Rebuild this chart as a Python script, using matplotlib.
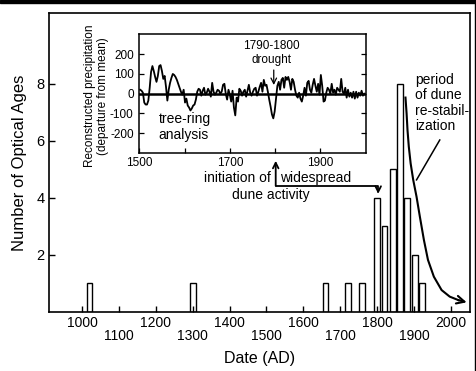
import numpy as np
import matplotlib
matplotlib.use("Agg")
from matplotlib import pyplot as plt
from matplotlib.patches import Rectangle

plt.rcParams['font.family'] = ['Liberation Sans', 'DejaVu Sans']
plt.rcParams['axes.unicode_minus'] = False

# optical ages (main histogram)
age_dates = [1020, 1300, 1660, 1720, 1760, 1800, 1820, 1842, 1862, 1882, 1902, 1922]
age_counts = [1, 1, 1, 1, 1, 4, 3, 5, 8, 4, 2, 1]

even_ticks = [1000, 1200, 1400, 1600, 1800, 2000]
odd_ticks = [1100, 1300, 1500, 1700, 1900]

# tree-ring reconstructed precipitation (inset), every 3 years from 1502
precip_years = np.arange(1502, 2000, 3)
precip_values = [
    20, 15, 5, -45, -55, -55, -35, 30, 110, 140,
    115, 85, 60, 90, 140, 145, 115, 75, 90, 35,
    -35, 20, 55, 80, 100, 95, 85, 70, 50, 30,
    10, -5, 20, -45, -25, -60, -70, -85, -75, -60,
    -55, -30, 10, 25, 20, -10, 15, 30, -5, 5,
    25, 10, -15, 55, 10, -5, 5, 20, 15, 0,
    10, 45, 50, 0, -30, 20, -5, -40, 15, -70,
    -110, -20, -40, 25, 15, -10, 10, 20, -15, 15,
    45, 5, -10, 10, 25, 30, -10, 10, 35, 55,
    10, 70, 40, 45, 10, -30, -65, -105, -125, -90,
    -25, 40, 60, 20, 70, 80, 30, 85, 70, 85,
    60, 20, 75, 60, 20, -10, -20, 5, -25, -40,
    -10, 30, -10, 55, 65, 20, 5, 45, 75, 40,
    10, 50, -5, 95, 40, -40, -35, 5, 30, 20,
    0, 50, 5, 20, -5, 30, 20, 10, 75, 10,
    0, 30, -20, 20, -15, 5, -20, 10, -25, 10,
    -20, 5, -10, 15, -10, 0,
]

# "period of dune re-stabilization" arrow path
curve_x = [1877, 1880, 1882.5, 1886, 1891, 1898, 1907, 1916, 1927, 1938, 1954, 1975, 1997, 2020, 2043]
curve_y = [7.52, 6.97, 6.38, 5.80, 5.21, 4.63, 4.04, 3.34, 2.52, 1.82, 1.23, 0.76, 0.53, 0.41, 0.33]

fig = plt.figure(figsize=(4.77, 3.71), dpi=100)
ax = fig.add_axes([0.1027, 0.1598, 0.8826, 0.8044])

ax.bar(age_dates, age_counts, width=16, color='white', edgecolor='black', linewidth=1.0)
ax.set_xlim(910, 2052)
ax.set_ylim(0, 10.48)
ax.set_yticks([2, 4, 6, 8])
ax.set_xticks(even_ticks, [str(t) for t in even_ticks])
ax.set_xticks(odd_ticks, [str(t) for t in odd_ticks], minor=True)
ax.tick_params(axis='x', which='major', direction='in', length=4, width=1, pad=3, labelsize=10)
ax.tick_params(axis='x', which='minor', direction='in', length=4, width=1, pad=12.5, labelsize=10)
ax.tick_params(axis='y', direction='in', length=4.5, width=1, pad=3, labelsize=10.5)
for s in ax.spines.values():
    s.set_linewidth(1.2)

ax.set_xlabel('Date (AD)', fontsize=11.5)
ax.xaxis.set_label_coords(0.5, -0.156)
ax.xaxis.label.set_va('center')
ax.set_ylabel('Number of Optical Ages', fontsize=12)
ax.yaxis.set_label_coords(-0.069, 0.5)
ax.yaxis.label.set_va('center')

# annotations on main axes
ax.text(1330, 4.69, 'initiation of', ha='left', va='center', fontsize=10)
ax.text(1536, 4.69, 'widespread', ha='left', va='center', fontsize=10)
ax.text(1512, 4.10, 'dune activity', ha='center', va='center', fontsize=10)
ax.annotate('', xy=(1525, 5.30), xytext=(1525, 4.42),
            arrowprops=dict(arrowstyle='->', lw=1.3, color='black', shrinkA=0, shrinkB=0))
ax.annotate('', xy=(1803, 4.14), xytext=(1525, 4.42),
            arrowprops=dict(arrowstyle='->', lw=1.3, color='black', shrinkA=0, shrinkB=0,
                            connectionstyle='angle,angleA=0,angleB=90,rad=0'))

ax.text(1904, 7.33, 'period\nof dune\nre-stabil-\nization', ha='left', va='center',
        fontsize=10, linespacing=1.15)
ax.plot(curve_x[:-1], curve_y[:-1], color='black', lw=1.5)
ax.annotate('', xy=(curve_x[-1], curve_y[-1]), xytext=(curve_x[-2], curve_y[-2]),
            arrowprops=dict(arrowstyle='->', lw=1.5, color='black', shrinkA=0, shrinkB=0,
                            mutation_scale=14))
ax.plot([1970, 1907], [6.03, 4.63], color='black', lw=1.1)

# inset: tree-ring record
ax_in = fig.add_axes([0.292, 0.5868, 0.4746, 0.3224])
ax_in.plot(precip_years, precip_values, color='black', lw=1.3)
ax_in.axhline(0, color='black', lw=1.8)
ax_in.set_xlim(1500, 2000)
ax_in.set_ylim(-302, 304)
ax_in.set_yticks([-200, -100, 0, 100, 200])
ax_in.set_xticks([1500, 1600, 1700, 1800, 1900], ['1500', '', '1700', '', '1900'])
ax_in.tick_params(direction='in', length=3.5, width=0.9, labelsize=8.5, right=True)
ax_in.tick_params(axis='y', pad=4)
ax_in.tick_params(axis='x', pad=2.5)
for s in ax_in.spines.values():
    s.set_linewidth(1.1)
ax_in.set_ylabel('Reconstructed precipitation\n(departure from mean)', fontsize=8.5, linespacing=1.1)
ax_in.yaxis.set_label_coords(-0.19, 0.48)
ax_in.yaxis.label.set_va('center')

ax_in.text(1792, 242, '1790-1800', ha='center', va='center', fontsize=8.5)
ax_in.text(1792, 171, 'drought', ha='center', va='center', fontsize=8.5)
ax_in.annotate('', xy=(1797, 44), xytext=(1797, 120),
               arrowprops=dict(arrowstyle='->', lw=0.9, color='black', shrinkA=0, shrinkB=0))
ax_in.text(1543, -130, 'tree-ring', ha='left', va='center', fontsize=10)
ax_in.text(1543, -210, 'analysis', ha='left', va='center', fontsize=10)

# black frame edges of the original picture
fig.patches.append(Rectangle((0, 1 - 3 / 371), 1, 3 / 371, transform=fig.transFigure,
                             color='black', zorder=5))
fig.patches.append(Rectangle((1 - 1.5 / 477, 0), 1.5 / 477, 1, transform=fig.transFigure,
                             color='black', zorder=5))

fig.savefig('out.png', dpi=100)
